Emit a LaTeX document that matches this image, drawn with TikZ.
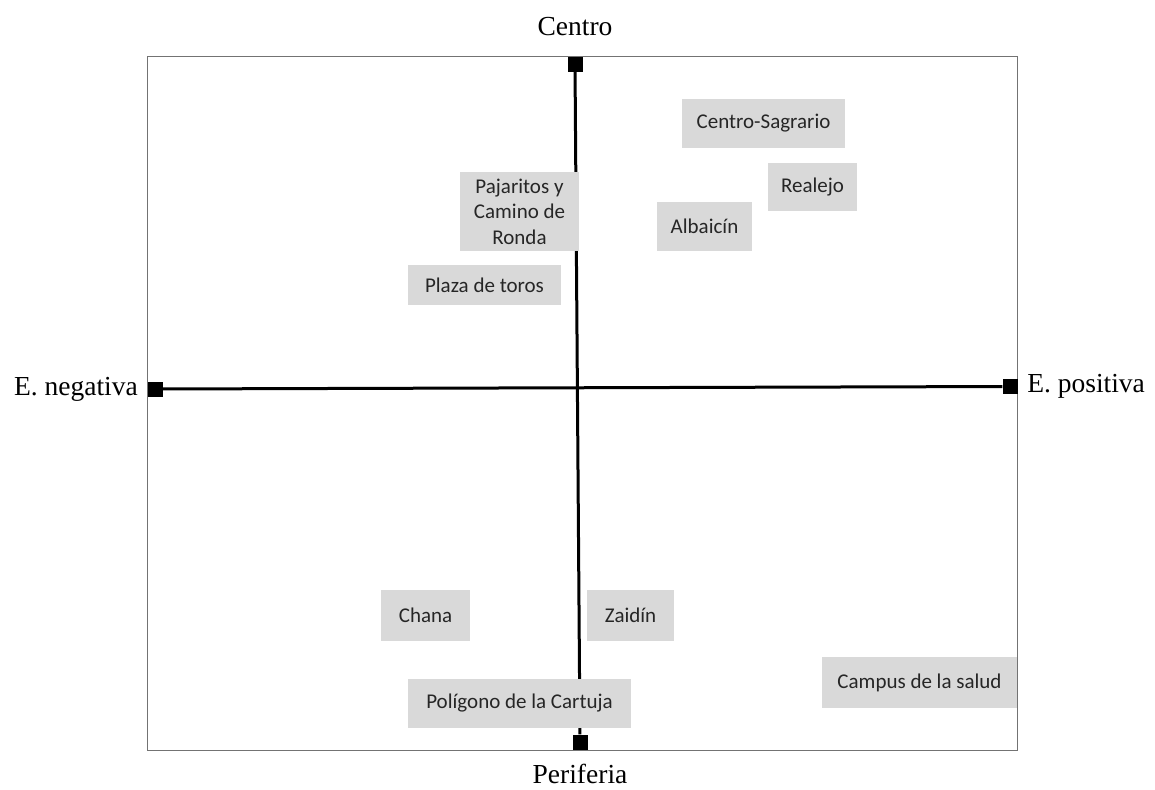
\documentclass[tikz,border=0pt]{standalone}
\usepackage{fontspec}
\setmainfont{Liberation Serif}
\newfontfamily\zonefont{Carlito}
\usetikzlibrary{positioning}
\definecolor{zonegray}{RGB}{217,217,217}
\begin{document}
\begin{tikzpicture}[x=1pt, y=-1pt,
    zone/.style={fill=zonegray, inner sep=0pt, minimum height=49pt, align=center,
        text=black!85, font=\zonefont\fontsize{21}{25.5}\selectfont},
    endbox/.style={fill=black, inner sep=0pt, minimum size=15pt},
    axislabel/.style={font=\fontsize{27.5}{30}\selectfont}]
    \useasboundingbox (0,0) rectangle (1155,789);
    \draw [black!55, line width=1pt] (147,57) rectangle (1017,750);

    % axis ends
    \node [endbox] (top) at (575,64.5) {};
    \node [endbox] (bottom) at (580,742) {};
    \node [endbox] (left) at (155,389) {};
    \node [endbox] (right) at (1010,386.5) {};

    \draw [line width=3pt] (top) -- (bottom);
    \draw [line width=3pt] (left) -- (right);

    \node [axislabel] (centro) at (575,27) {Centro};
    \node [axislabel] (periferia) at (580,774) {Periferia};
    \node [axislabel, left=6pt of left] (negativa) {E. negativa};
    \node [axislabel, right=6pt of right] (positiva) {E. positiva};

    % barrios
    \node [zone, minimum width=163pt] (sagrario) at (763.5,123.5) {Centro-Sagrario};
    \node [zone, minimum width=89pt, minimum height=48pt] (realejo) at (812.5,187) {Realejo};
    \node [zone, minimum width=95pt] (albaicin) at (704.5,226.5) {Albaicín};
    \node [zone, minimum width=119pt, minimum height=79pt] (pajaritos) at (519.5,211.5) {Pajaritos y\\Camino de\\Ronda};
    \node [zone, minimum width=153pt, minimum height=40pt] (toros) at (484.5,285) {Plaza de toros};
    \node [zone, minimum width=89pt, minimum height=51pt] (chana) at (425.5,615.5) {Chana};
    \node [zone, minimum width=87pt, minimum height=51pt] (zaidin) at (630.5,615.5) {Zaidín};
    \node [zone, minimum width=223pt] (cartuja) at (519.5,703.5) {Polígono de la Cartuja};
    \node [zone, minimum width=195pt, minimum height=51pt] (campus) at (919.5,682.5) {Campus de la salud};
\end{tikzpicture}
\end{document}
